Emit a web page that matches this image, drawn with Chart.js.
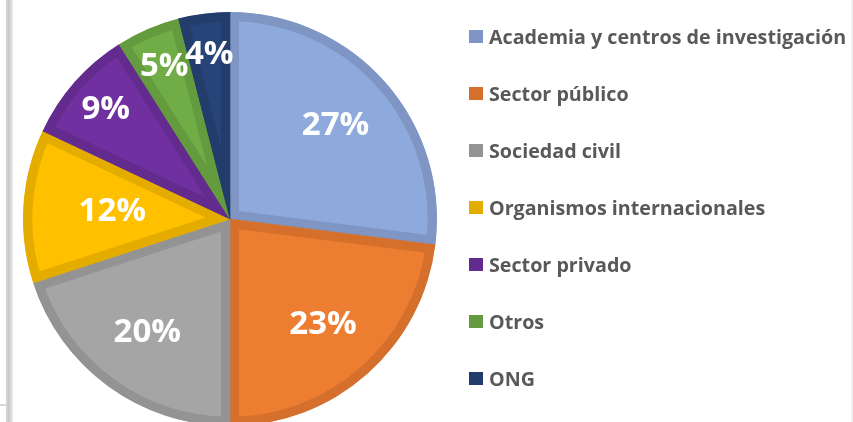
<!DOCTYPE html>
<html>
<head>
<meta charset="utf-8">
<script src="https://cdn.jsdelivr.net/npm/chart.js@4"></script>
<style>
  html, body { margin: 0; padding: 0; background: #fff; }
  #wrap { position: relative; width: 853px; height: 422px; overflow: hidden; }
  #frameL { position: absolute; left: 6px; top: 0; width: 7px; height: 422px;
    background: linear-gradient(to right, #d9d9d9, #c8c8c8 40%, #ededed); }
  #frameH { position: absolute; left: 0; top: 404px; width: 6px; height: 2px; background: #d6d6d6; }
  #frameR { position: absolute; right: 0; top: 0; width: 2px; height: 422px; background: #f0f0f0; }
  #legend { position: absolute; left: 469px; top: 8px; margin: 0; padding: 0; list-style: none;
    font-family: "Open Sans", sans-serif; font-weight: bold; font-size: 19.7px; color: #595959; }
  #legend li { height: 57px; display: flex; align-items: center; white-space: nowrap; }
  #legend span.box { display: inline-block; width: 14px; height: 13px; margin-right: 6px; }
  canvas { position: absolute; left: 0; top: 0; }
</style>
</head>
<body>
<div id="wrap">
  <div id="frameL"></div>
  <div id="frameH"></div>
  <div id="frameR"></div>
  <canvas id="pie" width="853" height="422"></canvas>
  <ul id="legend"></ul>
</div>
<script>
const categories = [
  'Academia y centros de investigación',
  'Sector público',
  'Sociedad civil',
  'Organismos internacionales',
  'Sector privado',
  'Otros',
  'ONG'
];
const shares = [27, 23, 20, 12, 9, 5, 4];
const fillColors = ['#8EA9DB', '#ED7D31', '#A5A5A5', '#FFC000', '#7030A0', '#70AD47', '#264478'];
const edgeColors = ['#7F96C4', '#D46F2C', '#939393', '#E5AC00', '#642B8F', '#649B3F', '#223D6B'];

// percentage labels inside the slices (no datalabels plugin offline)
const pctLabels = {
  id: 'pctLabels',
  afterDatasetsDraw(chart) {
    const ctx = chart.ctx;
    const meta = chart.getDatasetMeta(0);
    ctx.save();
    ctx.fillStyle = '#fff';
    ctx.font = 'bold 33px "Open Sans", sans-serif';
    ctx.textAlign = 'center';
    ctx.textBaseline = 'middle';
    meta.data.forEach((arc, i) => {
      const p = arc.getProps(['x', 'y', 'startAngle', 'endAngle', 'outerRadius'], true);
      const mid = (p.startAngle + p.endAngle) / 2;
      const v = shares[i];
      const k = v >= 20 ? 0.68 : v >= 10 ? 0.57 : 0.8;
      const r = p.outerRadius * k;
      ctx.fillText(v + '%', p.x + Math.cos(mid) * r, p.y + Math.sin(mid) * r);
    });
    ctx.restore();
  }
};

const chart = new Chart(document.getElementById('pie'), {
  type: 'pie',
  data: {
    labels: categories,
    datasets: [{
      data: shares,
      backgroundColor: fillColors,
      borderColor: edgeColors,
      borderWidth: 9,
      borderAlign: 'inner',
      clip: false
    }]
  },
  options: {
    responsive: false,
    animation: false,
    radius: 207,
    layout: { padding: { left: 0, right: 393, top: 16, bottom: 0 } },
    plugins: {
      legend: { display: false },
      tooltip: { enabled: false }
    }
  },
  plugins: [pctLabels]
});

// legend built from the chart's own data
const ul = document.getElementById('legend');
chart.data.labels.forEach((lab, i) => {
  const li = document.createElement('li');
  const box = document.createElement('span');
  box.className = 'box';
  box.style.background = edgeColors[i];
  li.appendChild(box);
  li.appendChild(document.createTextNode(lab));
  ul.appendChild(li);
});
</script>
</body>
</html>
